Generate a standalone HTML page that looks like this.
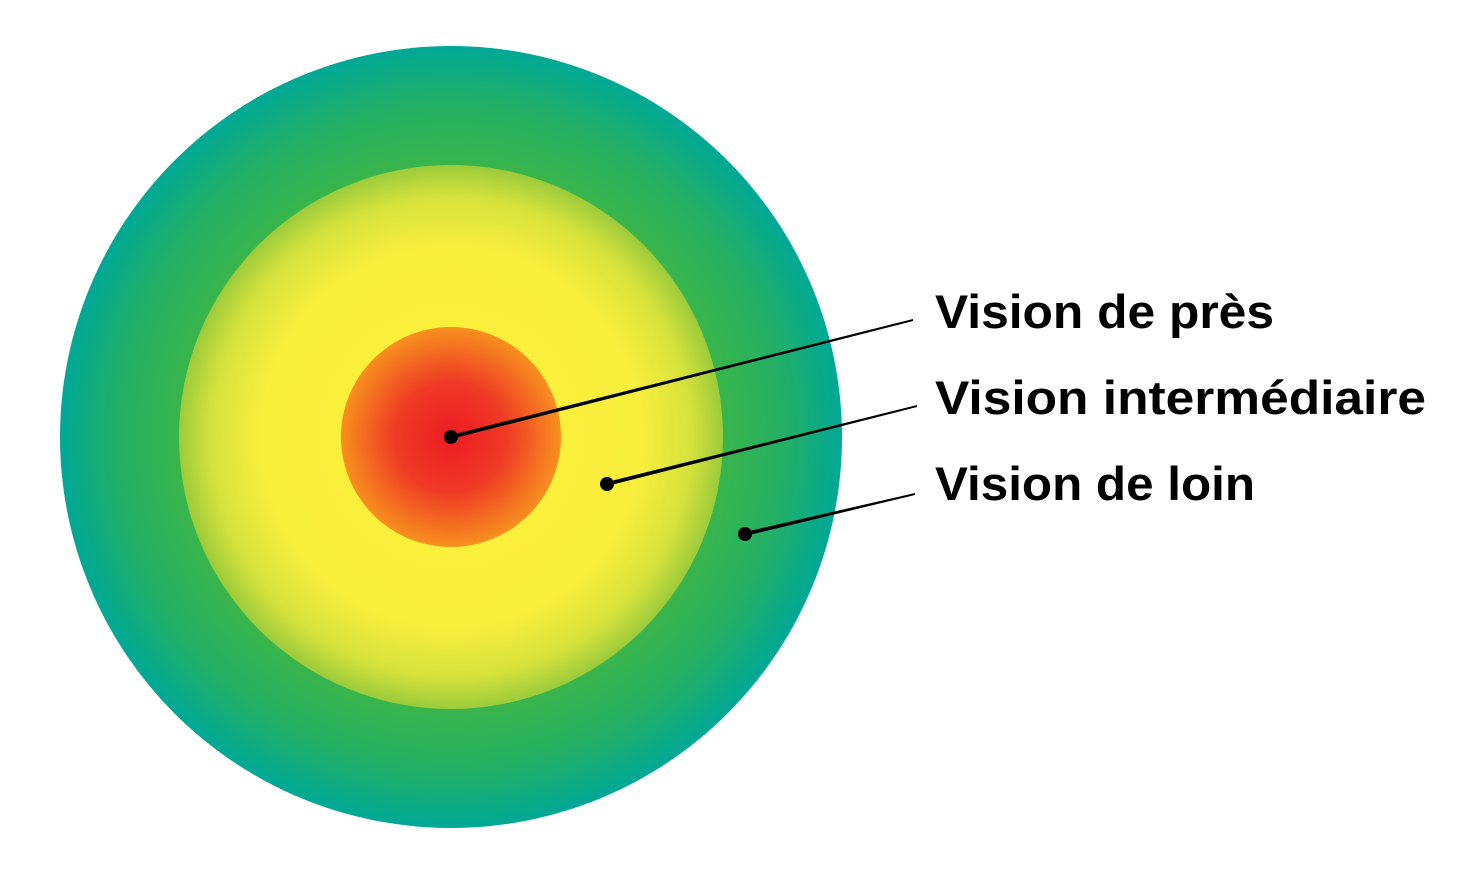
<!DOCTYPE html>
<html><head><meta charset="utf-8"><style>html,body{margin:0;padding:0;background:#fff;}svg{display:block}</style></head>
<body>
<svg width="1466" height="890" viewBox="0 0 1466 890" xmlns="http://www.w3.org/2000/svg">
<defs>
<radialGradient id="g1" cx="451" cy="437" r="391" gradientUnits="userSpaceOnUse">
<stop offset="0.69" stop-color="#39b54a"/><stop offset="0.85" stop-color="#24b065"/><stop offset="1" stop-color="#00a896"/>
</radialGradient>
<radialGradient id="g2" cx="451" cy="437" r="272" gradientUnits="userSpaceOnUse">
<stop offset="0" stop-color="#fdf03a"/><stop offset="0.7" stop-color="#f8ee3c"/><stop offset="0.88" stop-color="#d6e23c"/><stop offset="1" stop-color="#9ccb3b"/>
</radialGradient>
<radialGradient id="g3" cx="451" cy="437" r="110" gradientUnits="userSpaceOnUse">
<stop offset="0" stop-color="#ed1c24"/><stop offset="0.5" stop-color="#ef3a25"/><stop offset="1" stop-color="#f7901e"/>
</radialGradient>
</defs>
<circle cx="451" cy="437" r="391" fill="url(#g1)"/>
<circle cx="451" cy="437" r="272" fill="url(#g2)"/>
<circle cx="451" cy="437" r="110" fill="url(#g3)"/>
<polygon points="451,435 913,319 913,321 451,439" fill="#000"/>
<polygon points="607,482 917,405 917,407 607,486" fill="#000"/>
<polygon points="745,532 915,493 915,495 745,536" fill="#000"/>
<circle cx="451" cy="437" r="7" fill="#000"/>
<circle cx="607" cy="484" r="7" fill="#000"/>
<circle cx="745" cy="534" r="7" fill="#000"/>
<g font-family="Liberation Sans, Arial, sans-serif" font-weight="bold" font-size="47" fill="#000">
<text x="935" y="328" textLength="339" lengthAdjust="spacingAndGlyphs">Vision de près</text>
<text x="935" y="414" textLength="491" lengthAdjust="spacingAndGlyphs">Vision intermédiaire</text>
<text x="935" y="500" textLength="320" lengthAdjust="spacingAndGlyphs">Vision de loin</text>
</g>
</svg>
</body></html>
